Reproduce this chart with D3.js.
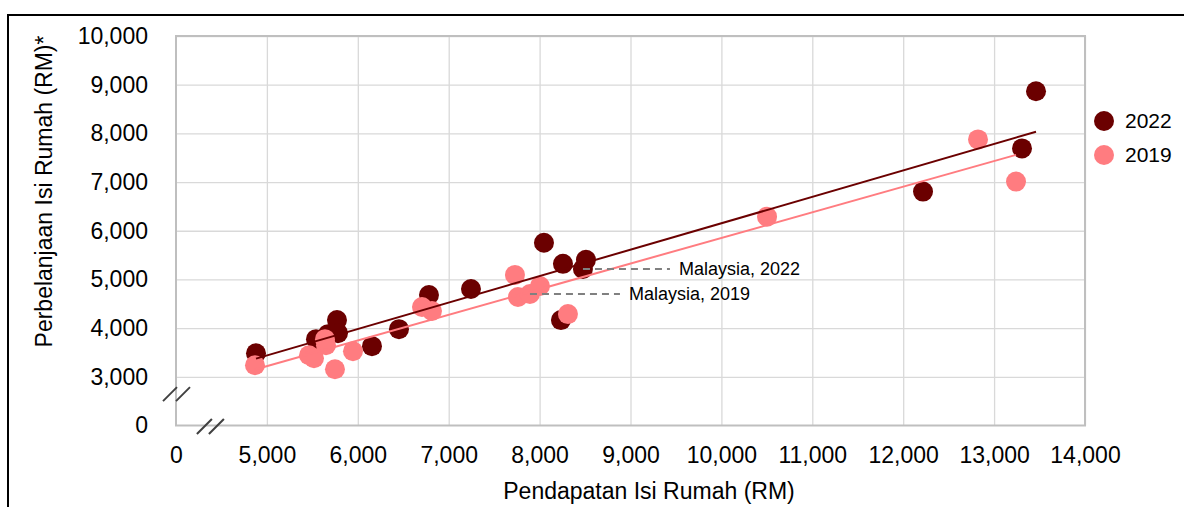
<!DOCTYPE html>
<html>
<head>
<meta charset="utf-8">
<script src="https://cdn.jsdelivr.net/npm/d3@7"></script>
<style>
	body { margin: 0; background: #fff; }
	svg { display: block; font-family: "Liberation Sans", Arial, sans-serif; }
	.grid line { stroke: #d9d9d9; stroke-width: 1.3; }
	.grid path { display: none; }
	.ticks path, .ticks line { display: none; }
	.ticks text { fill: #000; font-size: 23px; }
</style>
</head>
<body>
<script>
var years = ["2022", "2019"];
var colors = ["#6b0000", "#ff7c80"];

// pendapatan (x) dan perbelanjaan (y) isi rumah ikut negeri
var income2022 = [4880, 5540, 5672, 5771, 5782, 6156, 6453, 6783, 7245, 8048, 8257, 8510, 8477, 8235, 12218, 13307, 13461];
var spend2022 = [3485, 3773, 3876, 4165, 3897, 3629, 3979, 4680, 4804, 5753, 5320, 5402, 5216, 4165, 6804, 7691, 8866];
var income2019 = [4869, 5463, 5518, 5650, 5639, 5749, 5947, 6706, 6816, 7729, 7762, 7894, 8004, 8312, 10502, 12823, 13241];
var spend2019 = [3237, 3443, 3381, 3649, 3773, 3155, 3526, 4433, 4351, 5093, 4639, 4701, 4866, 4289, 6289, 7876, 7010];

var xTicks = [4000, 5000, 6000, 7000, 8000, 9000, 10000, 11000, 12000, 13000, 14000];
var xTickLabels = ["0", "5,000", "6,000", "7,000", "8,000", "9,000", "10,000", "11,000", "12,000", "13,000", "14,000"];
var yTicks = [2000, 3000, 4000, 5000, 6000, 7000, 8000, 9000, 10000];
var yTickLabels = ["0", "3,000", "4,000", "5,000", "6,000", "7,000", "8,000", "9,000", "10,000"];

var noteLabels = ["Malaysia, 2022", "Malaysia, 2019"];
var noteIncome = [8477, 7894];
var noteSpend = [5216, 4701];
var noteTextAt = [9533, 8983];

(function(){
	var width = 1184,
		height = 507,
		left = 176,
		right = 1085,
		top = 36,
		bottom = 425.5,
		series,
		svg, plot, x, y;

	series = [
		{name: years[0], color: colors[0], xs: income2022, ys: spend2022},
		{name: years[1], color: colors[1], xs: income2019, ys: spend2019}
	];

	svg = d3.select("body").append("svg")
		.attr("width", width)
		.attr("height", height);

	// bingkai luar
	svg.append("rect")
		.attr("x", 8)
		.attr("y", 15)
		.attr("width", 1300)
		.attr("height", 700)
		.attr("fill", "none")
		.attr("stroke", "#000")
		.attr("stroke-width", 2);

	x = d3.scaleLinear().domain([4000, 14000]).range([left, right]);
	y = d3.scaleLinear().domain([2000, 10000]).range([bottom, top]);

	svg.append("g")
		.classed("grid", true)
		.attr("transform", "translate(0," + bottom + ")")
		.call(d3.axisBottom(x).tickValues(xTicks.slice(1)).tickSize(-(bottom - top)).tickFormat(""));
	svg.append("g")
		.classed("grid", true)
		.attr("transform", "translate(" + left + ",0)")
		.call(d3.axisLeft(y).tickValues(yTicks.slice(1)).tickSize(-(right - left)).tickFormat(""));

	// garis paksi
	svg.append("path")
		.attr("d", "M" + left + "," + top + "V" + bottom + "H" + right + "V" + top + "Z")
		.attr("fill", "none")
		.attr("stroke", "#bfbfbf")
		.attr("stroke-width", 2);

	svg.append("g")
		.classed("ticks", true)
		.attr("transform", "translate(0," + bottom + ")")
		.call(d3.axisBottom(x).tickValues(xTicks).tickSize(0).tickPadding(21.5)
			.tickFormat(function(d, i) {return xTickLabels[i];}));
	svg.append("g")
		.classed("ticks", true)
		.attr("transform", "translate(" + left + ",0)")
		.call(d3.axisLeft(y).tickValues(yTicks).tickSize(0).tickPadding(28)
			.tickFormat(function(d, i) {return yTickLabels[i];}));

	// tanda potong paksi
	[[-13, -12], [0, -12]].forEach(function(o) {
		svg.append("line")
			.attr("x1", left + o[0]).attr("y1", y(2500) + 0)
			.attr("x2", left + o[0] + 14).attr("y2", y(2500) - 14)
			.attr("stroke", "#404040").attr("stroke-width", 2);
	});
	[0, 12].forEach(function(o) {
		svg.append("line")
			.attr("x1", x(4230) + o).attr("y1", bottom + 8.5)
			.attr("x2", x(4230) + o + 15).attr("y2", bottom - 6.5)
			.attr("stroke", "#404040").attr("stroke-width", 2);
	});

	plot = svg.append("g");

	series.forEach(function(s) {
		plot.append("g")
			.selectAll("circle")
			.data(s.xs)
			.enter()
			.append("circle")
			.attr("cx", function(d) {return x(d);})
			.attr("cy", function(d, i) {return y(s.ys[i]);})
			.attr("r", 10)
			.attr("fill", s.color);
	});

	// garis trend linear
	series.forEach(function(s) {
		var n = s.xs.length,
			mx = d3.mean(s.xs),
			my = d3.mean(s.ys),
			sxy = 0, sxx = 0, i, b, a, x0, x1;
		for (i = 0; i < n; i++) {
			sxy += (s.xs[i] - mx) * (s.ys[i] - my);
			sxx += (s.xs[i] - mx) * (s.xs[i] - mx);
		}
		b = sxy / sxx;
		a = my - b * mx;
		x0 = d3.min(s.xs);
		x1 = d3.max(s.xs);
		plot.append("line")
			.attr("x1", x(x0)).attr("y1", y(a + b * x0))
			.attr("x2", x(x1)).attr("y2", y(a + b * x1))
			.attr("stroke", s.color)
			.attr("stroke-width", 2);
	});

	noteLabels.forEach(function(label, i) {
		svg.append("line")
			.attr("x1", x(noteIncome[i]))
			.attr("y1", y(noteSpend[i]))
			.attr("x2", x(noteTextAt[i]) - 9)
			.attr("y2", y(noteSpend[i]))
			.attr("stroke", "#808080")
			.attr("stroke-width", 2)
			.attr("stroke-dasharray", "7,5");
		svg.append("text")
			.attr("x", x(noteTextAt[i]))
			.attr("y", y(noteSpend[i]))
			.attr("dy", "0.35em")
			.style("font-size", "18px")
			.text(label);
	});

	// legenda
	series.forEach(function(s, i) {
		var g = svg.append("g")
			.attr("transform", "translate(1104," + (121 + i * 34) + ")");
		g.append("circle").attr("r", 10).attr("fill", s.color);
		g.append("text")
			.attr("x", 21)
			.attr("dy", "0.35em")
			.style("font-size", "21px")
			.text(s.name);
	});

	svg.append("text")
		.attr("x", 649)
		.attr("y", 499)
		.attr("text-anchor", "middle")
		.style("font-size", "23px")
		.text("Pendapatan Isi Rumah (RM)");
	svg.append("text")
		.attr("transform", "translate(52,191.5) rotate(-90)")
		.attr("text-anchor", "middle")
		.style("font-size", "23px")
		.text("Perbelanjaan Isi Rumah (RM)*");
}());
</script>
</body>
</html>
